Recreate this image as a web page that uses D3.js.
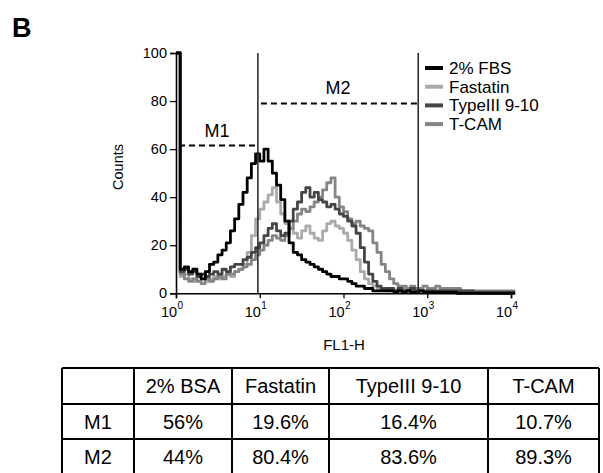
<!DOCTYPE html>
<html>
<head>
<meta charset="utf-8">
<script src="https://cdn.jsdelivr.net/npm/d3@7"></script>
<style>
  body { margin: 0; background: #fff; }
  svg { display: block; font-family: "Liberation Sans", Arial, sans-serif; }
</style>
</head>
<body>
<div id="fig"></div>
<script>
// channel grid, 20 channels per decade (log10 steps of 0.05)
var channels = d3.range(82).map(function (i) { return Math.pow(10, i * 0.05); });

var seriesNames = ["2% FBS", "Fastatin", "TypeIII 9-10", "T-CAM"];
var seriesColors = ["#000000", "#ababab", "#454545", "#858585"];

var fbsCounts = [100, 10, 11, 9, 10, 8, 6, 9, 12, 13,
  16, 18, 21, 26, 31, 37, 42, 48, 54, 58,
  55, 60, 55, 50, 45, 39, 30, 21, 17, 16,
  14, 13, 12, 11, 10, 9, 8, 7, 7, 6,
  6, 5, 4, 3, 3, 2, 2, 1, 1, 1,
  1, 1, 0.5, 1, 0.5, 1, 0.5, 0.5, 1, 0.5, 0.5, 0.5, 0.5, 0.5, 0.5, 0.5, 0.5,
  0, 0, 0, 0, 0, 0, 0, 0, 0, 0, 0, 0, 0, 0, 0];
var fastatinCounts = [100, 7, 8, 6, 5, 7, 6, 5, 6, 7,
  6, 7, 8, 7, 9, 10, 12, 17, 24, 31,
  35, 38, 41, 44, 38, 33, 29, 27, 25, 23,
  26, 28, 25, 23, 22, 26, 29, 30, 28, 27,
  25, 22, 18, 14, 9, 6, 4, 3, 2, 2,
  1, 2, 1, 1, 2, 1, 1, 1, 1, 1, 1, 1, 0.5, 1, 0.5, 0.5, 0.5,
  0.5, 0.5, 0.5, 0.5, 0.5, 0.5, 0, 0, 0, 0, 0, 0, 0, 0, 0];
var typeIIICounts = [100, 9, 10, 8, 9, 7, 8, 7, 8, 9,
  8, 10, 9, 11, 12, 12, 14, 15, 17, 19,
  21, 24, 27, 29, 26, 24, 25, 30, 35, 38,
  42, 44, 40, 42, 39, 38, 36, 37, 35, 33,
  32, 30, 28, 25, 19, 13, 8, 5, 3, 2,
  2, 2, 1, 2, 1, 1, 2, 1, 1, 1, 1, 1, 1, 1, 1, 1, 1,
  1, 1, 1, 1, 0.5, 0.5, 0.5, 0.5, 0.5, 0.5, 0.5, 0.5, 0.5, 0.5, 0.5];
var tcamCounts = [100, 8, 6, 5, 6, 5, 4, 6, 5, 6,
  7, 6, 8, 8, 9, 10, 11, 12, 14, 16,
  18, 20, 22, 24, 23, 22, 24, 27, 30, 33,
  35, 34, 36, 38, 40, 43, 46, 48, 40, 36,
  34, 31, 29, 30, 28, 27, 26, 21, 17, 12,
  9, 6, 4, 3, 3, 2, 3, 2, 2, 3, 2, 2, 3, 2, 2, 2, 2,
  2, 1, 1, 1, 1, 1, 1, 1, 1, 1, 1, 1, 1, 1, 1];
var allCounts = [fbsCounts, fastatinCounts, typeIIICounts, tcamCounts];

var gateNames = ["M1", "M2"];
var gateFrom = [1, 9.5];
var gateTo = [9.5, 780];
var gateLevel = [61.5, 79];

var yTicks = [0, 20, 40, 60, 80, 100];
var xTicks = [1, 10, 100, 1000, 10000];

var tableHead = ["", "2% BSA", "Fastatin", "TypeIII 9-10", "T-CAM"];
var m1Row = ["M1", "56%", "19.6%", "16.4%", "10.7%"];
var m2Row = ["M2", "44%", "80.4%", "83.6%", "89.3%"];

var W = 603, H = 473;
var svg = d3.select("#fig").append("svg").attr("width", W).attr("height", H);

svg.append("text").attr("x", 12).attr("y", 37)
  .attr("font-size", 27).attr("font-weight", "bold").text("B");

var x = d3.scaleLog().domain([1, 10000]).range([176, 511]);
var y = d3.scaleLinear().domain([0, 100]).range([293.3, 53]);

// histograms: lightest first, black on top
var line = d3.line()
  .x(function (d, i) { return x(channels[i]); })
  .y(function (d) { return y(Math.min(d, 100)); })
  .curve(d3.curveStepAfter);

[1, 3, 2, 0].forEach(function (k) {
  svg.append("path")
    .datum(allCounts[k])
    .attr("d", line)
    .attr("fill", "none")
    .attr("stroke", seriesColors[k])
    .attr("stroke-width", 2.8)
    .attr("stroke-linejoin", "round");
});

// gates
var gateEdges = [gateFrom[1], gateTo[1]];
svg.selectAll(".gate-v").data(gateEdges).enter().append("line")
  .attr("x1", function (d) { return x(d); }).attr("x2", function (d) { return x(d); })
  .attr("y1", y(0)).attr("y2", y(100))
  .attr("stroke", "#222").attr("stroke-width", 1.5);

svg.selectAll(".gate-h").data(gateNames).enter().append("line")
  .attr("x1", function (d, i) { return x(gateFrom[i]) + 3; })
  .attr("x2", function (d, i) { return x(gateTo[i]); })
  .attr("y1", function (d, i) { return y(gateLevel[i]); })
  .attr("y2", function (d, i) { return y(gateLevel[i]); })
  .attr("stroke", "#000").attr("stroke-width", 2)
  .attr("stroke-dasharray", "6,4");

svg.selectAll(".gate-t").data(gateNames).enter().append("text")
  .attr("x", function (d, i) { return (x(gateFrom[i]) + x(gateTo[i])) / 2; })
  .attr("y", function (d, i) { return y(gateLevel[i]) - 9; })
  .attr("text-anchor", "middle").attr("font-size", 18)
  .text(function (d) { return d; });

// axes
var yAxis = svg.append("g").attr("transform", "translate(176,0)")
  .call(d3.axisLeft(y).tickValues(yTicks).tickSize(6).tickPadding(3));
yAxis.selectAll("text").attr("font-size", 14.5).attr("fill", "#000")
  .style("font-family", "Liberation Sans, Arial, sans-serif");

var xAxis = svg.append("g").attr("transform", "translate(0," + y(0) + ")")
  .call(d3.axisBottom(x).tickValues(xTicks).tickSize(5).tickFormat(""));

[yAxis, xAxis].forEach(function (g) {
  g.select(".domain").attr("stroke", "#000").attr("stroke-width", 1.6);
  g.selectAll(".tick line").attr("stroke", "#000").attr("stroke-width", 1.3);
});

var xl = svg.selectAll(".xlab").data(xTicks).enter().append("text")
  .attr("x", function (d) { return x(d) - 4; })
  .attr("y", 317).attr("text-anchor", "middle").attr("font-size", 14.5);
xl.append("tspan").text("10");
xl.append("tspan").attr("dy", -8).attr("dx", 0.5).attr("font-size", 10)
  .text(function (d) { return Math.round(Math.log10(d)); });

svg.append("text").attr("x", 344).attr("y", 350).attr("text-anchor", "middle")
  .attr("font-size", 15).text("FL1-H");
svg.append("text").attr("transform", "translate(123,167) rotate(-90)")
  .attr("text-anchor", "middle").attr("font-size", 14.5).text("Counts");

// legend
var lg = svg.selectAll(".lg").data(seriesNames).enter().append("g")
  .attr("transform", function (d, i) { return "translate(425," + (74 + i * 18.7) + ")"; });
lg.append("line").attr("x1", 0).attr("x2", 18).attr("y1", -6).attr("y2", -6)
  .attr("stroke", function (d, i) { return seriesColors[i]; }).attr("stroke-width", 4);
lg.append("text").attr("x", 24).attr("font-size", 17).text(function (d) { return d; });

// table
var colEdges = [62, 134, 232, 329, 488, 599];
var rowEdges = [368, 404, 439, 476];
var rows = [tableHead, m1Row, m2Row];

svg.selectAll(".hrule").data(rowEdges).enter().append("line")
  .attr("x1", colEdges[0]).attr("x2", colEdges[colEdges.length - 1])
  .attr("y1", function (d) { return d; }).attr("y2", function (d) { return d; })
  .attr("stroke", "#000").attr("stroke-width", 2);
svg.selectAll(".vrule").data(colEdges).enter().append("line")
  .attr("x1", function (d) { return d; }).attr("x2", function (d) { return d; })
  .attr("y1", rowEdges[0]).attr("y2", rowEdges[rowEdges.length - 1])
  .attr("stroke", "#000").attr("stroke-width", 2);

rows.forEach(function (r, ri) {
  svg.selectAll(".cell" + ri).data(r).enter().append("text")
    .attr("x", function (d, ci) { return (colEdges[ci] + colEdges[ci + 1]) / 2; })
    .attr("y", rowEdges[ri] + 25)
    .attr("text-anchor", "middle").attr("font-size", 20)
    .text(function (d) { return d; });
});
</script>
</body>
</html>
